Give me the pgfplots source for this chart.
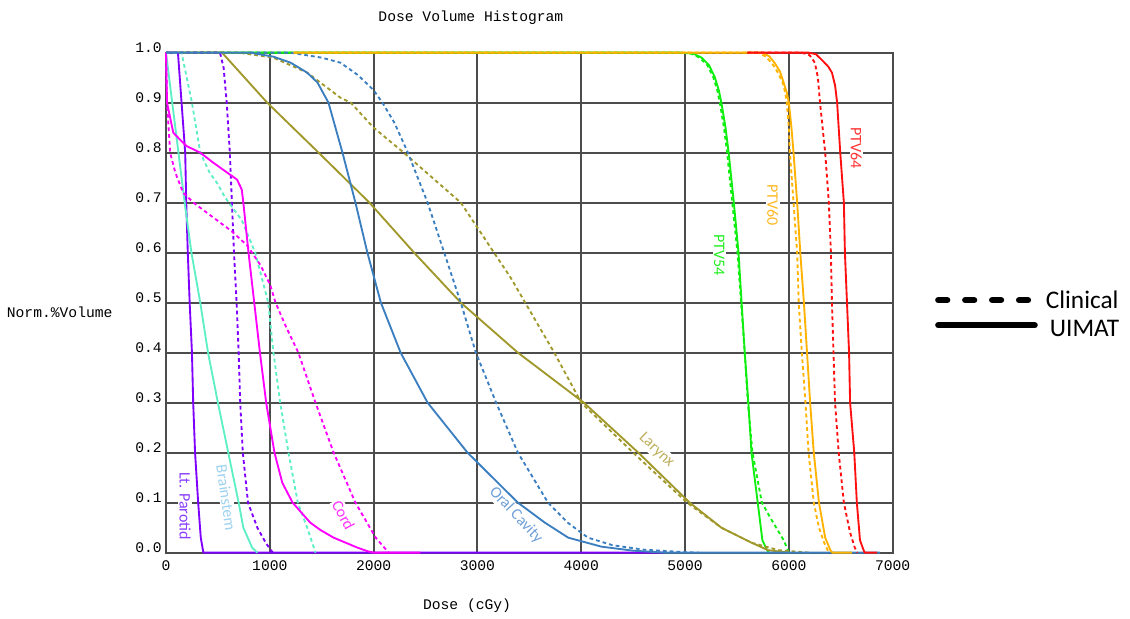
\documentclass[border=0pt]{standalone}
\usepackage{fontspec}
\setmainfont{Liberation Mono}
\newfontfamily\lab{Carlito}
\usepackage{pgfplots}
\pgfplotsset{compat=1.18}
\definecolor{cPur}{HTML}{8000FF}
\definecolor{cAq}{HTML}{5FEFC6}
\definecolor{cMag}{HTML}{FF00FF}
\definecolor{cBlu}{HTML}{3C7FC0}
\definecolor{cOli}{HTML}{A0982A}
\definecolor{cGrn}{HTML}{10EE10}
\definecolor{cOra}{HTML}{FFB300}
\definecolor{cRed}{HTML}{FF1010}
\definecolor{tPur}{HTML}{8A3CFF}
\definecolor{tAq}{HTML}{9ED2F0}
\definecolor{tMag}{HTML}{FF33FF}
\definecolor{tBlu}{HTML}{6F9FD8}
\definecolor{tOli}{HTML}{C0B060}
\definecolor{tGrn}{HTML}{22EE22}
\definecolor{tOra}{HTML}{FFB822}
\definecolor{tRed}{HTML}{FF3333}
\begin{document}
\begin{tikzpicture}
\begin{axis}[
  set layers,
  at={(0,0)}, anchor=south west,
  scale only axis, width=545pt, height=375pt,
  xmin=0, xmax=7000, ymin=0, ymax=1,
  clip=false,
  xtick={0,1000,...,7000},
  xticklabels={0,1000,2000,3000,4000,5000,6000,7000},
  ytick={0,0.1,...,1.0},
  yticklabels={0.0,0.1,0.2,0.3,0.4,0.5,0.6,0.7,0.8,0.9,1.0},
  major tick length=0pt,
  grid=major,
  grid style={black!70, line width=1.5pt},
  axis line style={black!70, line width=1.5pt},
  xticklabel style={font=\fontsize{11}{13}\selectfont, anchor=base, inner sep=0pt, yshift=-13pt},
  yticklabel style={font=\fontsize{11}{13}\selectfont, anchor=base east, inner sep=0pt, xshift=-3pt},
  every axis plot/.append style={line width=1.4pt, line join=round},
  dsh/.style={dash pattern=on 2.8pt off 2.3pt},
]
% text labels (cover grid only)
\begin{pgfonlayer}{pre main}
\node[font=\lab\fontsize{12}{14}\selectfont, text=tPur, fill=white, inner sep=1pt, rotate=-90] at (axis cs:184,0.093) {Lt. Parotid};
\node[font=\lab\fontsize{12}{14}\selectfont, text=tAq, fill=white, inner sep=1pt, rotate=-82] at (axis cs:580,0.110) {Brainstem};
\node[font=\lab\fontsize{12}{14}\selectfont, text=tMag, fill=white, inner sep=1pt, rotate=-62] at (axis cs:1710,0.075) {Cord};
\node[font=\lab\fontsize{12}{14}\selectfont, text=tBlu, fill=white, inner sep=1pt, rotate=-47] at (axis cs:3372,0.075) {Oral Cavity};
\node[font=\lab\fontsize{12}{14}\selectfont, text=tOli, fill=white, inner sep=1pt, rotate=-44] at (axis cs:4725,0.205) {Larynx};
\node[font=\lab\fontsize{12}{14}\selectfont, text=tGrn, fill=white, inner sep=1pt, rotate=-90] at (axis cs:5330,0.595) {PTV54};
\node[font=\lab\fontsize{12}{14}\selectfont, text=tOra, fill=white, inner sep=1pt, rotate=-90] at (axis cs:5845,0.695) {PTV60};
\node[font=\lab\fontsize{12}{14}\selectfont, text=tRed, fill=white, inner sep=1pt, rotate=-90] at (axis cs:6650,0.809) {PTV64};
\end{pgfonlayer}
% PTV54
\addplot[cGrn] coordinates {(0,1)(4970,1)(5080,0.998)(5160,0.99)(5230,0.975)(5285,0.952)(5325,0.925)(5350,0.9)(5390,0.85)(5420,0.8)(5470,0.7)(5515,0.6)(5545,0.5)(5575,0.4)(5610,0.3)(5640,0.2)(5700,0.1)(5745,0.025)(5790,0.005)(5810,0)};
\addplot[cGrn,dsh] coordinates {(0,1)(4950,1)(5060,0.998)(5140,0.99)(5215,0.975)(5270,0.952)(5310,0.925)(5335,0.9)(5375,0.85)(5405,0.8)(5455,0.7)(5505,0.6)(5540,0.5)(5575,0.4)(5605,0.3)(5650,0.2)(5740,0.1)(5835,0.065)(5950,0.025)(6000,0)};
% Larynx
\addplot[cOli] coordinates {(0,1)(540,1)(975,0.9)(1470,0.8)(1960,0.7)(2390,0.6)(2840,0.5)(3390,0.4)(4025,0.3)(4550,0.2)(5045,0.1)(5350,0.05)(5640,0.02)(5800,0.005)(6000,0)};
\addplot[cOli,dsh] coordinates {(0,1)(700,1)(1035,0.99)(1360,0.96)(1680,0.91)(1780,0.9)(2000,0.85)(2290,0.8)(2620,0.74)(2840,0.7)(3000,0.65)(3160,0.6)(3320,0.55)(3460,0.5)(3740,0.4)(4000,0.3)(4500,0.2)(5020,0.1)(5350,0.05)(5640,0.02)(5900,0.005)(6200,0)};
% Lt. Parotid
\addplot[cPur] coordinates {(0,1)(115,1)(150,0.9)(185,0.8)(195,0.7)(210,0.6)(228,0.5)(250,0.4)(262,0.3)(280,0.2)(310,0.1)(335,0.03)(360,0)(4800,0)};
\addplot[cPur,dsh] coordinates {(0,1)(520,1)(555,0.97)(585,0.9)(615,0.8)(635,0.7)(655,0.6)(680,0.5)(700,0.4)(715,0.3)(740,0.2)(790,0.1)(880,0.05)(960,0.02)(1010,0.005)(1030,0)};
% Brainstem
\addplot[cAq] coordinates {(0,1)(30,0.95)(60,0.9)(120,0.8)(180,0.7)(245,0.6)(330,0.5)(405,0.4)(500,0.3)(600,0.2)(700,0.1)(745,0.05)(830,0.01)(880,0)};
\addplot[cAq,dsh] coordinates {(0,1)(150,1)(200,0.95)(250,0.9)(330,0.8)(420,0.76)(490,0.74)(570,0.71)(730,0.665)(860,0.6)(910,0.56)(985,0.5)(1035,0.4)(1100,0.3)(1180,0.2)(1270,0.1)(1360,0.05)(1440,0)};
% Cord
\addplot[cMag] coordinates {(0,1)(10,0.9)(70,0.84)(135,0.826)(200,0.813)(330,0.8)(455,0.78)(590,0.76)(685,0.746)(730,0.726)(745,0.7)(795,0.6)(850,0.5)(905,0.4)(965,0.3)(1045,0.2)(1120,0.14)(1220,0.1)(1390,0.06)(1490,0.045)(1615,0.03)(1845,0.01)(1940,0.003)(2000,0)(2450,0)};
\addplot[cMag,dsh] coordinates {(0,1)(10,0.9)(40,0.8)(90,0.76)(165,0.72)(265,0.7)(425,0.675)(620,0.645)(780,0.615)(910,0.575)(1005,0.535)(1055,0.5)(1160,0.45)(1275,0.4)(1440,0.3)(1615,0.2)(1825,0.1)(2020,0.03)(2145,0)};
% Oral Cavity
\addplot[cBlu] coordinates {(0,1)(810,1)(1035,0.992)(1200,0.98)(1360,0.96)(1460,0.94)(1565,0.9)(1700,0.8)(1825,0.7)(1940,0.6)(2070,0.5)(2260,0.4)(2520,0.3)(2905,0.2)(3390,0.1)(3650,0.06)(3875,0.03)(4195,0.012)(4500,0.004)(4800,0)(6880,0)};
\addplot[cBlu,dsh] coordinates {(810,1)(1200,1)(1500,0.99)(1680,0.98)(1850,0.955)(2000,0.925)(2085,0.9)(2200,0.86)(2330,0.8)(2520,0.7)(2680,0.6)(2775,0.54)(2840,0.5)(2985,0.4)(3180,0.3)(3390,0.2)(3680,0.1)(3870,0.06)(4065,0.03)(4300,0.015)(4600,0.006)(5000,0.001)(5130,0)};
% PTV60
\addplot[cOra] coordinates {(1230,1)(5740,1)(5810,0.993)(5865,0.979)(5915,0.962)(5950,0.94)(5980,0.92)(6000,0.9)(6025,0.85)(6045,0.8)(6080,0.7)(6110,0.6)(6145,0.5)(6175,0.4)(6205,0.3)(6240,0.2)(6290,0.1)(6350,0.03)(6400,0.005)(6420,0)(6610,0)};
\addplot[cOra,dsh] coordinates {(1230,1)(5700,1)(5780,0.992)(5850,0.975)(5900,0.958)(5940,0.94)(5965,0.92)(5980,0.9)(6000,0.85)(6010,0.8)(6045,0.7)(6080,0.6)(6095,0.5)(6125,0.4)(6160,0.3)(6190,0.2)(6240,0.1)(6290,0.05)(6340,0.02)(6385,0)};
% PTV64
\addplot[cRed] coordinates {(5600,1)(6190,1)(6260,0.997)(6320,0.985)(6380,0.972)(6415,0.96)(6445,0.935)(6465,0.9)(6480,0.85)(6495,0.8)(6530,0.7)(6540,0.6)(6560,0.5)(6580,0.4)(6590,0.3)(6630,0.2)(6655,0.1)(6685,0.025)(6720,0.005)(6730,0)(6850,0)};
\addplot[cRed,dsh] coordinates {(5600,1)(6125,1)(6200,0.995)(6250,0.98)(6280,0.95)(6300,0.9)(6325,0.85)(6350,0.8)(6385,0.7)(6405,0.6)(6415,0.5)(6430,0.4)(6445,0.3)(6480,0.2)(6530,0.1)(6590,0.04)(6635,0.01)(6660,0)};
% titles
\node[font=\fontsize{11}{13}\selectfont] at (axis cs:2937,1.069) {Dose Volume Histogram};
\node[font=\fontsize{11}{13}\selectfont] at (axis cs:2900,-0.107) {Dose (cGy)};
\node[font=\fontsize{11}{13}\selectfont] at (axis cs:-1024,0.481) {Norm.\%Volume};
% legend
\draw[black, line width=4.8pt, line cap=round, dash pattern=on 6.6pt off 13.6pt] (axis cs:7440,0.505) -- (axis cs:8367,0.505);
\draw[black, line width=4.8pt, line cap=round] (axis cs:7440,0.455) -- (axis cs:8367,0.455);
\node[font=\lab\fontsize{19}{22}\selectfont, anchor=west, inner sep=0pt] at (axis cs:8473,0.505) {Clinical};
\node[font=\lab\fontsize{19}{22}\selectfont, anchor=west, inner sep=0pt] at (axis cs:8512,0.449) {UIMAT};
\end{axis}
\path (-124.5pt,-49pt) rectangle (723pt,414.5pt);
\end{tikzpicture}
\end{document}
